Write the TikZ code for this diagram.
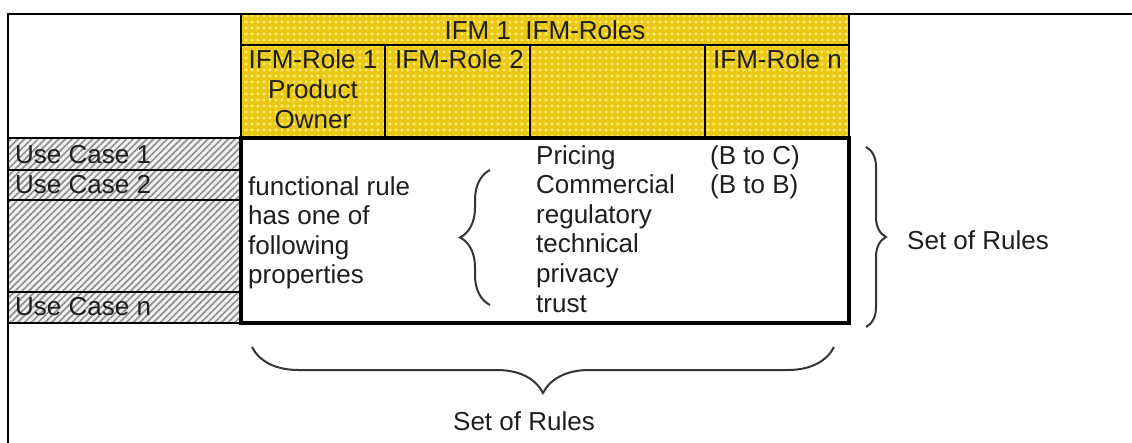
\documentclass[tikz,border=0pt]{standalone}
\usepackage{fontspec}
\setmainfont{Liberation Sans}
\usetikzlibrary{patterns.meta,decorations.pathreplacing}
\definecolor{gold}{RGB}{236,200,22}
\definecolor{golddot}{RGB}{255,240,115}
\definecolor{hatchbg}{RGB}{242,242,242}
\definecolor{hatchln}{RGB}{145,145,145}
\definecolor{ink}{RGB}{30,30,30}
\begin{document}
\begin{tikzpicture}[x=1pt,y=-1pt,
  txt/.style={font=\fontsize{26}{29.5}\selectfont, text=ink, inner sep=0pt, anchor=base west},
  ctxt/.style={txt, anchor=base},
  grid/.style={line width=2pt, draw=black},
  bodybox/.style={line width=3.5pt, draw=black},
  bracebig/.style={decorate, line width=2pt, draw=ink!90},
  frame/.style={line width=2pt, draw=black}]
\useasboundingbox (0,0) rectangle (1132,442);
% outer frame (only top and left visible)
\draw[frame] (8,460) -- (8,14) -- (1150,14);
% header
\fill[gold] (241,14) rectangle (849,138);
\fill[pattern={Dots[radius=1.7pt,distance=6pt]}, pattern color=golddot] (241,14) rectangle (849,138);
\draw[grid] (241,14) rectangle (849,138);
\draw[grid] (241,45) -- (849,45);
\foreach \x in {385,530,705} \draw[grid] (\x,45) -- (\x,138);
% use case column
\fill[hatchbg] (8,138) rectangle (241,323);
\fill[pattern={Lines[angle=45,distance=4.8pt,line width=1.7pt]}, pattern color=hatchln] (8,138) rectangle (241,323);
\draw[grid] (8,138) rectangle (241,323);
\foreach \y in {170,200,292} \draw[grid] (8,\y) -- (241,\y);
% body
\draw[bodybox] (241,138) rectangle (849,323);
% header texts
\node[ctxt] (ifm) at (545,39) {IFM 1\ \ IFM-Roles};
\node[ctxt] (r1a) at (313,68) {IFM-Role 1};
\node[ctxt] (r1b) at (313,98.5) {Product};
\node[ctxt] (r1c) at (313,128) {Owner};
\node[txt] (r2) at (395,68) {IFM-Role 2};
\node[txt] (rn) at (713,68) {IFM-Role n};
% use cases
\node[txt] (uc1) at (15,163) {Use Case 1};
\node[txt] (uc2) at (15,193) {Use Case 2};
\node[txt] (ucn) at (15,315) {Use Case n};
% functional rule
\foreach \t [count=\i from 0] in {functional rule, has one of, following, properties}
  \node[txt] (f\i) at (248,{195+29.5*\i}) {\t};
% properties
\foreach \t [count=\i from 0] in {Pricing, Commercial, regulatory, technical, privacy, trust}
  \node[txt] (p\i) at (536,{164+29.6*\i}) {\t};
\node[txt] (bc) at (710,164) {(B to C)};
\node[txt] (bb) at (710,193.6) {(B to B)};
% braces
\coordinate (lbB) at (490,305);
\coordinate (lbT) at (490,170);
\draw[bracebig, decoration={brace,amplitude=30pt}] (lbB) -- (lbT);
\coordinate (rbT) at (866,147);
\coordinate (rbB) at (866,327);
\draw[bracebig, decoration={brace,amplitude=20pt}] (rbT) -- (rbB);
\node[txt] (setr) at (907,249) {Set of Rules};
\coordinate (bbR) at (834,347);
\coordinate (bbL) at (252,347);
\draw[bracebig, decoration={brace,amplitude=46pt}] (bbR) -- (bbL);
\node[ctxt] (setb) at (524,430) {Set of Rules};
\end{tikzpicture}
\end{document}
